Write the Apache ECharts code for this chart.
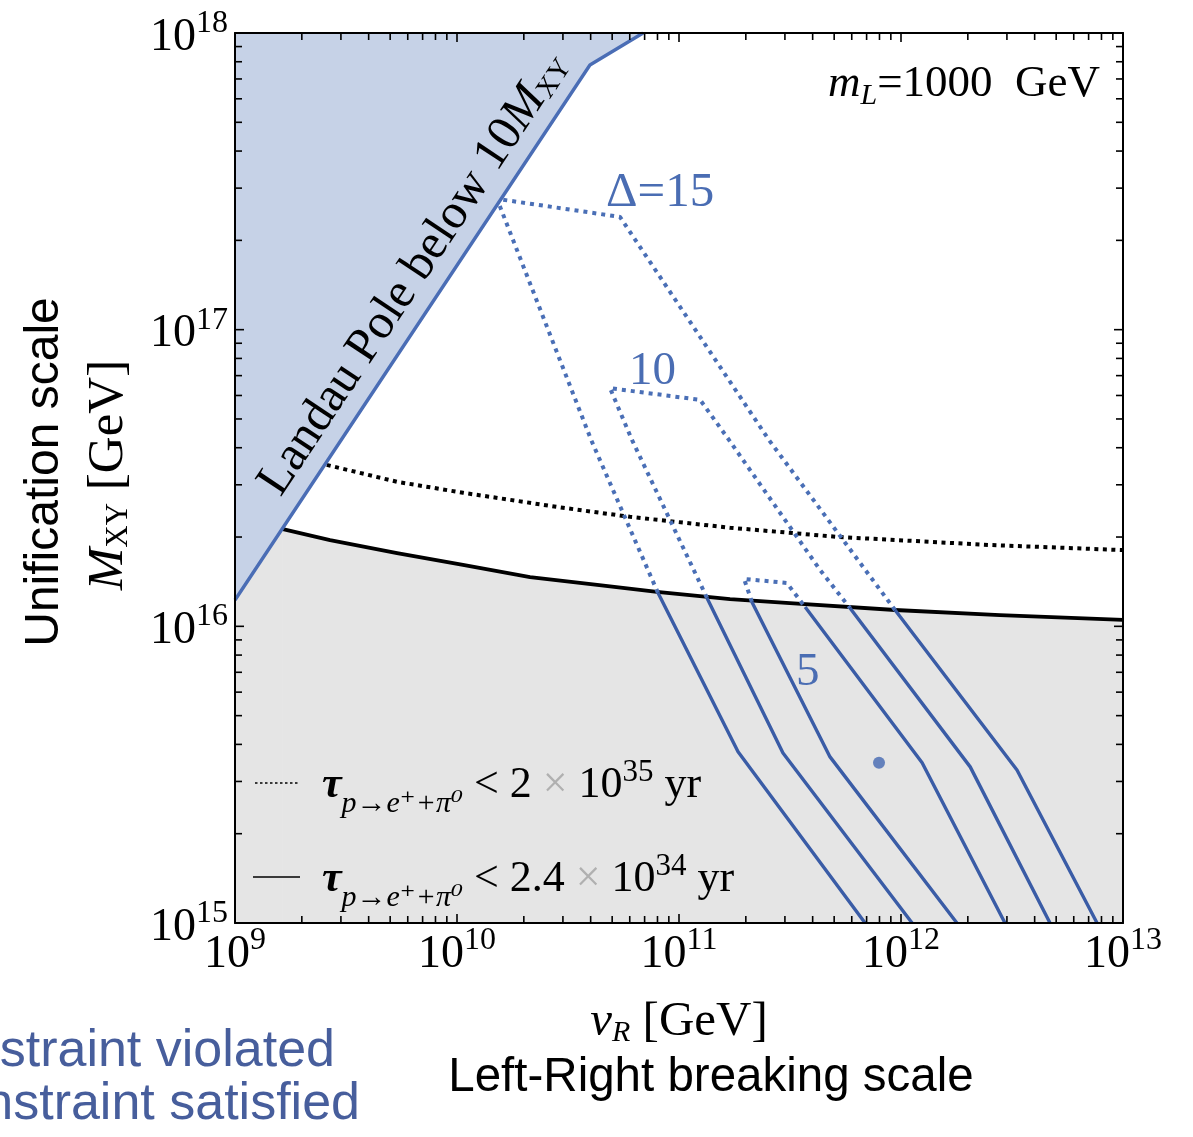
<!DOCTYPE html>
<html>
<head>
<meta charset="utf-8">
<title>Unification scale vs Left-Right breaking scale</title>
<script src="https://cdn.jsdelivr.net/npm/echarts@6/dist/echarts.min.js"></script>
<style>
  html, body { margin: 0; padding: 0; background: #fff; }
  #main { width: 1193px; height: 1137px; }
</style>
</head>
<body>
<div id="main"></div>
<script>
// axis ranges, GeV
var vMin = 1e9, vMax = 1e13;
var mMin = 1e15, mMax = 1e18;

// decades and log sub-ticks
var vDecades = [9, 10, 11, 12, 13];
var mDecades = [15, 16, 17, 18];
var minorSteps = [2, 3, 4, 5, 6, 7, 8, 9];

// [v_R, M_XY] pairs
var landauPole = [[1e9, 1.227e16], [3.97e10, 7.80e17], [6.89e10, 1e18]];
var landauFoot = [[1e9, 1.227e16], [1.644e9, 2.128e16]];
var tau24e34 = [[1.644e9, 2.128e16], [2.68e9, 1.954e16], [5.37e9, 1.766e16], [1.064e10, 1.611e16],
                [2.133e10, 1.466e16], [4.28e10, 1.380e16], [7.96e10, 1.306e16], [1.698e11, 1.236e16],
                [3.16e11, 1.197e16], [9.40e11, 1.135e16], [2.79e12, 1.091e16], [1e13, 1.052e16]];
var tau2e35 = [[2.59e9, 3.50e16], [5.37e9, 3.07e16], [1.064e10, 2.82e16], [3.00e10, 2.51e16],
               [6.01e10, 2.34e16], [1.698e11, 2.15e16], [5.26e11, 2.00e16], [2.52e12, 1.88e16], [1e13, 1.807e16]];

var delta15Dotted = [[8.04e10, 1.297e16], [4.02e10, 4.25e16], [1.514e10, 2.76e17], [5.42e10, 2.40e17],
                     [2.54e11, 4.25e16], [9.40e11, 1.135e16]];
var delta15Left = [[8.04e10, 1.297e16], [1.845e11, 3.78e15], [6.89e11, 1e15]];
var delta15Right = [[9.40e11, 1.135e16], [3.33e12, 3.28e15], [7.64e12, 1e15]];

var delta10Dotted = [[1.337e11, 1.247e16], [6.14e10, 4.25e16], [4.89e10, 6.35e16], [1.245e11, 5.80e16],
                     [1.679e11, 4.25e16], [4.32e11, 1.549e16], [5.89e11, 1.153e16]];
var delta10Left = [[1.337e11, 1.247e16], [2.94e11, 3.74e15], [1.122e12, 1e15]];
var delta10Right = [[5.89e11, 1.153e16], [2.05e12, 3.36e15], [4.69e12, 1e15]];

var delta5Dotted = [[2.13e11, 1.208e16], [1.963e11, 1.445e16], [3.06e11, 1.40e16], [3.70e11, 1.161e16]];
var delta5Left = [[2.13e11, 1.208e16], [4.79e11, 3.63e15], [1.786e12, 1e15]];
var delta5Right = [[3.70e11, 1.161e16], [1.245e12, 3.47e15], [2.94e12, 1e15]];

var benchmark = [[7.96e11, 3.47e15]];

var SERIF = '"Liberation Serif", "DejaVu Serif", serif';
var SANS = '"Liberation Sans", Arial, sans-serif';
var BLUE = '#3a5ca6';
var BLUE_DOT = '#4a6fb6';
var LABEL_BLUE = '#4a6db3';

// tick lists: [value, other-axis value, isMajor]
var vTicks = [], mTicks = [];
vDecades.forEach(function (e, i) {
  vTicks.push([Math.pow(10, e), mMin, 1]);
  if (i < vDecades.length - 1) {
    minorSteps.forEach(function (s) { vTicks.push([s * Math.pow(10, e), mMin, 0]); });
  }
});
mDecades.forEach(function (e, i) {
  mTicks.push([vMin, Math.pow(10, e), 1]);
  if (i < mDecades.length - 1) {
    minorSteps.forEach(function (s) { mTicks.push([vMin, s * Math.pow(10, e), 0]); });
  }
});

// rich text styles for math-ish labels
function mathRich(F, color, subDrop, subScale) {
  var base = { fontFamily: SERIF, fontSize: F, height: F, padding: [0.2 * F, 0, 0, 0], verticalAlign: 'top', fill: color, color: color };
  function ext(o) { var r = {}; for (var k in base) r[k] = base[k]; for (var j in o) r[j] = o[j]; return r; }
  var sf = Math.round((subScale || 0.62) * F);
  return {
    n: ext({}),
    i: ext({ fontStyle: 'italic' }),
    bi: ext({ fontStyle: 'italic', fontWeight: 'bold' }),
    x: ext({ fill: '#b0b0b0', color: '#b0b0b0' }),
    sub: ext({ fontSize: sf, height: sf, padding: [(0.5 + subDrop) * F, 0, 0, 0] }),
    subi: ext({ fontSize: sf, height: sf, fontStyle: 'italic', padding: [(0.5 + subDrop) * F, 0, 0, 0] }),
    sup: ext({ fontSize: Math.round(0.7 * F), height: Math.round(0.7 * F), padding: [0.05 * F, 0, 0, 0] })
  };
}

var myChart = echarts.init(document.getElementById('main'));

function tickItem(horizontal) {
  return function (params, api) {
    var len = api.value(2) ? 9 : 7;
    var st = { stroke: '#000', lineWidth: 1.6 };
    if (horizontal) {
      var b = api.coord([api.value(0), mMin]);
      var t = api.coord([api.value(0), mMax]);
      return { type: 'group', children: [
        { type: 'line', shape: { x1: b[0], y1: b[1], x2: b[0], y2: b[1] - len }, style: st },
        { type: 'line', shape: { x1: t[0], y1: t[1], x2: t[0], y2: t[1] + len }, style: st }
      ] };
    }
    var l = api.coord([vMin, api.value(1)]);
    var r = api.coord([vMax, api.value(1)]);
    return { type: 'group', children: [
      { type: 'line', shape: { x1: l[0], y1: l[1], x2: l[0] + len, y2: l[1] }, style: st },
      { type: 'line', shape: { x1: r[0], y1: r[1], x2: r[0] - len, y2: r[1] }, style: st }
    ] };
  };
}

function lineSeries(data, color, width, dash) {
  return {
    type: 'line', data: data, symbol: 'none', silent: true, z: 3,
    lineStyle: { color: color, width: width, type: dash || 'solid', cap: 'butt', join: 'round' }
  };
}

var tickRich = {
  b: { fontFamily: SERIF, fontSize: 46, height: 46, padding: [9, 0, 0, 0], verticalAlign: 'top', color: '#000' },
  s: { fontFamily: SERIF, fontSize: 32, height: 32, padding: [2, 0, 0, 0], verticalAlign: 'top', color: '#000' }
};
function powLabel(v) { return '{b|10}{s|' + Math.round(Math.log10(v)) + '}'; }

var option = {
  animation: false,
  backgroundColor: '#fff',
  grid: { left: 235, top: 33, right: 70, bottom: 214 },
  xAxis: [
    { type: 'log', logBase: 10, min: vMin, max: vMax, splitNumber: 4, position: 'bottom', z: 10,
      axisLine: { lineStyle: { color: '#000', width: 2 } }, axisTick: { show: false }, splitLine: { show: false },
      axisLabel: { formatter: powLabel, rich: tickRich, margin: 0, showMinLabel: true, showMaxLabel: true } },
    { type: 'log', logBase: 10, min: vMin, max: vMax, position: 'top', z: 10,
      axisLine: { lineStyle: { color: '#000', width: 2 } }, axisTick: { show: false }, splitLine: { show: false },
      axisLabel: { show: false } }
  ],
  yAxis: [
    { type: 'log', logBase: 10, min: mMin, max: mMax, splitNumber: 3, position: 'left', z: 10,
      axisLine: { lineStyle: { color: '#000', width: 2 } }, axisTick: { show: false }, splitLine: { show: false },
      axisLabel: { formatter: powLabel, rich: tickRich, margin: 7, showMinLabel: true, showMaxLabel: true } },
    { type: 'log', logBase: 10, min: mMin, max: mMax, position: 'right', z: 10,
      axisLine: { lineStyle: { color: '#000', width: 2 } }, axisTick: { show: false }, splitLine: { show: false },
      axisLabel: { show: false } }
  ],
  series: [
    // excluded region below the 2.4e34 yr bound
    { type: 'line', data: tau24e34, symbol: 'none', silent: true, z: 1,
      lineStyle: { width: 0 }, areaStyle: { color: '#e5e5e5', origin: 'start', opacity: 1 } },
    { type: 'line', data: landauFoot, symbol: 'none', silent: true, z: 1,
      lineStyle: { width: 0 }, areaStyle: { color: '#e5e5e5', origin: 'start', opacity: 1 } },
    // Landau pole region
    { type: 'line', data: landauPole, symbol: 'none', silent: true, z: 4,
      lineStyle: { color: '#4a6db5', width: 3.4 }, areaStyle: { color: '#c6d2e7', origin: 'end', opacity: 1 } },
    lineSeries(tau24e34, '#000', 3.8),
    lineSeries(tau2e35, '#000', 4, [4, 4.5]),
    lineSeries(delta15Dotted, BLUE_DOT, 4, [4, 5]),
    lineSeries(delta10Dotted, BLUE_DOT, 4, [4, 5]),
    lineSeries(delta5Dotted, BLUE_DOT, 4, [4, 5]),
    lineSeries(delta15Left, BLUE, 3.4),
    lineSeries(delta15Right, BLUE, 3.4),
    lineSeries(delta10Left, BLUE, 3.4),
    lineSeries(delta10Right, BLUE, 3.4),
    lineSeries(delta5Left, BLUE, 3.4),
    lineSeries(delta5Right, BLUE, 3.4),
    { type: 'scatter', data: benchmark, symbolSize: 12, silent: true, z: 5, itemStyle: { color: '#4368b2' } },
    { type: 'custom', data: vTicks, renderItem: tickItem(true), encode: { x: 0, y: 1 }, silent: true, z: 12 },
    { type: 'custom', data: mTicks, renderItem: tickItem(false), encode: { x: 0, y: 1 }, silent: true, z: 12 }
  ],
  graphic: [
    { type: 'text', x: 410, y: 271, rotation: 0.984, z: 20,
      style: { text: '{n|Landau Pole below 10}{i|M}{sub|XY}', rich: mathRich(49, '#000', 0.1, 0.58), align: 'center', verticalAlign: 'middle' } },
    { type: 'text', x: 606, y: 188, z: 20,
      style: { text: '{n|\u0394=15}', rich: mathRich(49, LABEL_BLUE, 0), align: 'left', verticalAlign: 'middle' } },
    { type: 'text', x: 629, y: 367, z: 20,
      style: { text: '{n|10}', rich: mathRich(47, LABEL_BLUE, 0), align: 'left', verticalAlign: 'middle' } },
    { type: 'text', x: 796, y: 668, z: 20,
      style: { text: '{n|5}', rich: mathRich(47, LABEL_BLUE, 0), align: 'left', verticalAlign: 'middle' } },
    { type: 'text', x: 1100, y: 82, z: 20,
      style: { text: '{i|m}{subi|L}{n|=1000  GeV}', rich: mathRich(45, '#000', 0.12, 0.66), align: 'right', verticalAlign: 'middle' } },
    // legend
    { type: 'line', z: 20, shape: { x1: 255, y1: 783, x2: 300, y2: 783 }, style: { stroke: '#000', lineWidth: 1.5, lineDash: [2.5, 2.5] } },
    { type: 'line', z: 20, shape: { x1: 253, y1: 877, x2: 300, y2: 877 }, style: { stroke: '#000', lineWidth: 1.6 } },
    { type: 'text', x: 322, y: 787, z: 20,
      style: { text: '{bi|\u03c4}{subi|p\u2192e\u207a+\u03c0\u2070}{n| < 2 }{x|\u00d7}{n| 10}{sup|35}{n| yr}', rich: mathRich(44, '#000', 0.28, 0.68), align: 'left', verticalAlign: 'middle' } },
    { type: 'text', x: 322, y: 881, z: 20,
      style: { text: '{bi|\u03c4}{subi|p\u2192e\u207a+\u03c0\u2070}{n| < 2.4 }{x|\u00d7}{n| 10}{sup|34}{n| yr}', rich: mathRich(44, '#000', 0.28, 0.68), align: 'left', verticalAlign: 'middle' } },
    // axis titles
    { type: 'text', x: 679, y: 1018, z: 20,
      style: { text: '{i|v}{subi|R}{n| [GeV]}', rich: mathRich(49, '#000', 0.1, 0.62), align: 'center', verticalAlign: 'middle' } },
    { type: 'text', x: 711, y: 1078, z: 20,
      style: { text: 'Left-Right breaking scale', font: '47.5px ' + SANS, fill: '#000', align: 'center', verticalAlign: 'middle' } },
    { type: 'text', x: 45, y: 472, rotation: Math.PI / 2, z: 20,
      style: { text: 'Unification scale', font: '48px ' + SANS, fill: '#000', align: 'center', verticalAlign: 'middle' } },
    { type: 'text', x: 104, y: 475, rotation: Math.PI / 2, z: 20,
      style: { text: '{i|M}{sub|XY}{n| [GeV]}', rich: mathRich(51, '#000', 0.1, 0.6), align: 'center', verticalAlign: 'middle' } },
    // slide text cut off at the left edge
    { type: 'text', x: 335, y: 1052, z: 20,
      style: { text: 'Constraint violated', font: '52px ' + SANS, fill: '#475e9c', align: 'right', verticalAlign: 'middle' } },
    { type: 'text', x: 360, y: 1105, z: 20,
      style: { text: 'Constraint satisfied', font: '52px ' + SANS, fill: '#475e9c', align: 'right', verticalAlign: 'middle' } }
  ]
};

myChart.setOption(option);
</script>
</body>
</html>
